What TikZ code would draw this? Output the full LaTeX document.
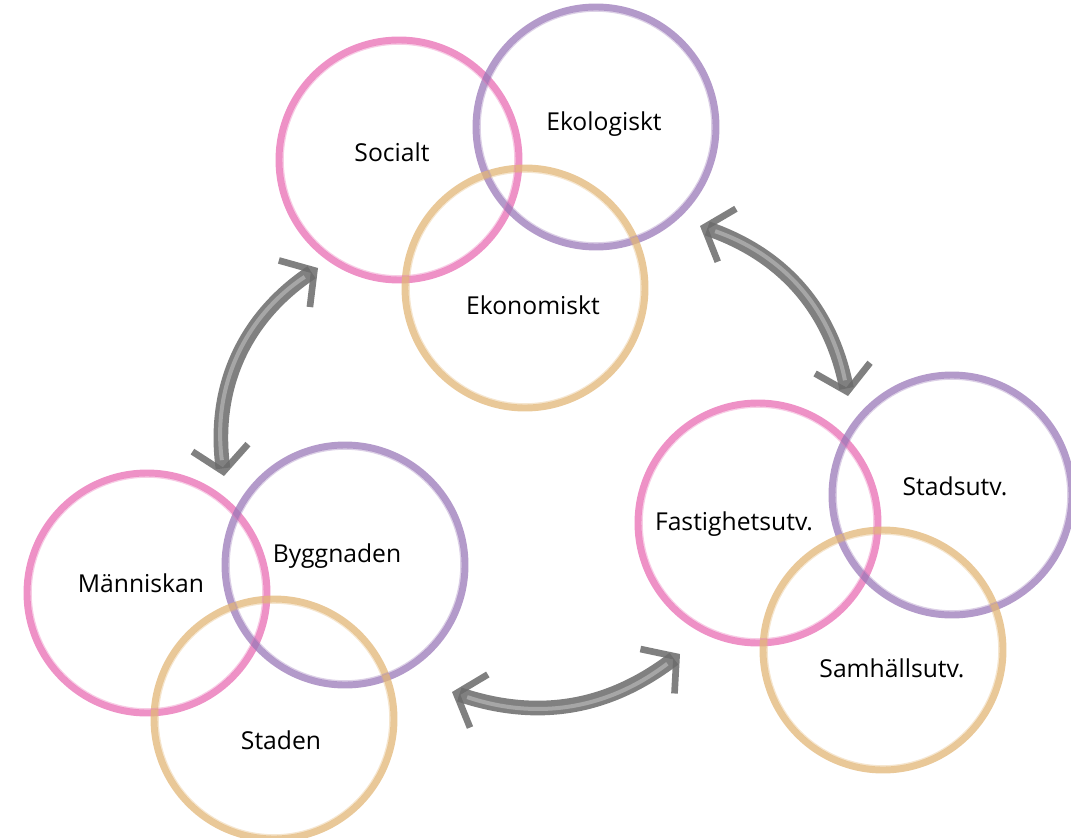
\documentclass[tikz,border=0pt]{standalone}
\usepackage{fontspec}
\setmainfont{Open Sans}
\usetikzlibrary{arrows.meta}
\definecolor{cpink}{HTML}{E86CB3}
\definecolor{cpurple}{HTML}{9A78B8}
\definecolor{corange}{HTML}{E2B676}
\definecolor{cgray}{HTML}{6A6A6A}
\tikzset{
  ring/.style={circle, draw=#1, line width=5.2pt, draw opacity=0.75, minimum size=180pt, inner sep=0pt},
  ringhi/.style={circle, draw=#1, line width=1.2pt, draw opacity=0.35, minimum size=174pt, inner sep=0pt},
  lbl/.style={font=\fontsize{18.5}{20}\selectfont, text=black},
  shaft/.style={draw=cgray, draw opacity=0.85, line width=11pt,
    {Straight Barb[length=18pt,width=42pt,line width=5pt]}-{Straight Barb[length=18pt,width=42pt,line width=5pt]}},
  shafthi/.style={draw=white, draw opacity=0.3, line width=3pt, shorten <=12pt, shorten >=12pt},
}
\begin{document}
\begin{tikzpicture}[x=0.75pt,y=-0.75pt]
\useasboundingbox (0,0) rectangle (1071,838);
% top group
\node[ring=cpink]   (soc) at (399,160) {};
\node[ring=cpurple] (eko) at (596,127) {};
\node[ring=corange] (ekn) at (525,288) {};
% bottom-left group
\node[ring=cpink]   (man) at (147,593) {};
\node[ring=cpurple] (byg) at (345,565) {};
\node[ring=corange] (sta) at (274,719) {};
% right group
\node[ring=cpink]   (fas) at (758,523) {};
\node[ring=cpurple] (sdu) at (952,495) {};
\node[ring=corange] (sam) at (883,650) {};
% highlights
\foreach \n/\c in {soc/cpink,eko/cpurple,ekn/corange,man/cpink,byg/cpurple,sta/corange,fas/cpink,sdu/cpurple,sam/corange}
  \node[ringhi=\c] at (\n.center) {};
% labels
\node[lbl] (tsoc) at (392,152) {Socialt};
\node[lbl] (teko) at (604,124) {Ekologiskt};
\node[lbl] (tekn) at (533,305) {Ekonomiskt};
\node[lbl] (tman) at (141,583) {Människan};
\node[lbl] (tbyg) at (337,556) {Byggnaden};
\node[lbl] (tsta) at (281,740) {Staden};
\node[lbl] (tfas) at (734,524) {Fastighetsutv.};
\node[lbl] (tsdu) at (955,486) {Stadsutv.};
\node[lbl] (tsam) at (892,668) {Samhällsutv.};
% arrows
\coordinate (a1) at (318,268);
\coordinate (b1) at (224,476);
\coordinate (a2) at (700,226);
\coordinate (b2) at (848,396);
\coordinate (a3) at (452,692);
\coordinate (b3) at (680,654);
\draw[shaft] (a1) to[bend right=32] (b1);
\draw[shafthi] (a1) to[bend right=32] (b1);
\draw[shaft] (a2) to[bend left=30] (b2);
\draw[shafthi] (a2) to[bend left=30] (b2);
\draw[shaft] (a3) to[bend right=28] (b3);
\draw[shafthi] (a3) to[bend right=28] (b3);
\end{tikzpicture}
\end{document}
